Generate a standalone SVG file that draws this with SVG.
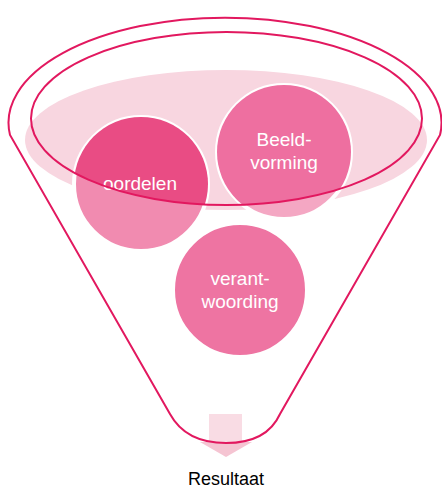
<svg xmlns="http://www.w3.org/2000/svg" width="442" height="490" viewBox="0 0 442 490">
  <style>
    .line { fill: none; stroke: #E2185F; stroke-width: 2; }
    .ball { stroke: #FFFFFF; stroke-width: 4; }
    .lbl { font-family: "Liberation Sans", Arial, sans-serif; font-size: 19px; fill: #FFFFFF; text-anchor: middle; }
    .out { font-family: "Liberation Sans", Arial, sans-serif; font-size: 18px; fill: #000000; text-anchor: middle; }
  </style>
  <defs>
    <clipPath id="inner">
      <ellipse cx="226.5" cy="118.5" rx="195.5" ry="86.5"/>
    </clipPath>
  </defs>
  <rect width="442" height="490" fill="#FFFFFF"/>
  <g id="surface">
    <ellipse cx="226" cy="140" rx="201" ry="70" fill="#F8D6E0"/>
  </g>
  <g id="node-oordelen">
    <circle class="ball" cx="141" cy="184" r="67" fill="#F18BB0"/>
    <circle cx="141" cy="184" r="67" fill="#E94C84" clip-path="url(#inner)"/>
    <text class="lbl" x="140" y="190">oordelen</text>
  </g>
  <g id="node-beeldvorming">
    <circle class="ball" cx="284" cy="152" r="67" fill="#F4A7C3"/>
    <circle cx="284" cy="152" r="67" fill="#EE6FA0" clip-path="url(#inner)"/>
    <text class="lbl" x="284" y="146">Beeld-</text>
    <text class="lbl" x="284" y="169">vorming</text>
  </g>
  <g id="node-verantwoording">
    <circle class="ball" cx="240" cy="290" r="67" fill="#EE74A2"/>
    <text class="lbl" x="240" y="285">verant-</text>
    <text class="lbl" x="240" y="308">woording</text>
  </g>
  <g id="connectors">
    <rect x="209" y="414" width="33" height="28" fill="#F9DCE4"/>
    <polygon points="200,442 252,442 226,457" fill="#F5C4D2"/>
  </g>
  <g id="funnel">
    <path class="line" d="M 10 135 A 216.5 105 0 1 1 440 135 L 280 414 C 270 436 250 443 226 443 C 202 443 182 436 170 414 Z"/>
    <ellipse class="line" cx="226.5" cy="118.5" rx="195.5" ry="86.5"/>
  </g>
  <g id="node-resultaat">
    <text class="out" x="226" y="485">Resultaat</text>
  </g>
</svg>
